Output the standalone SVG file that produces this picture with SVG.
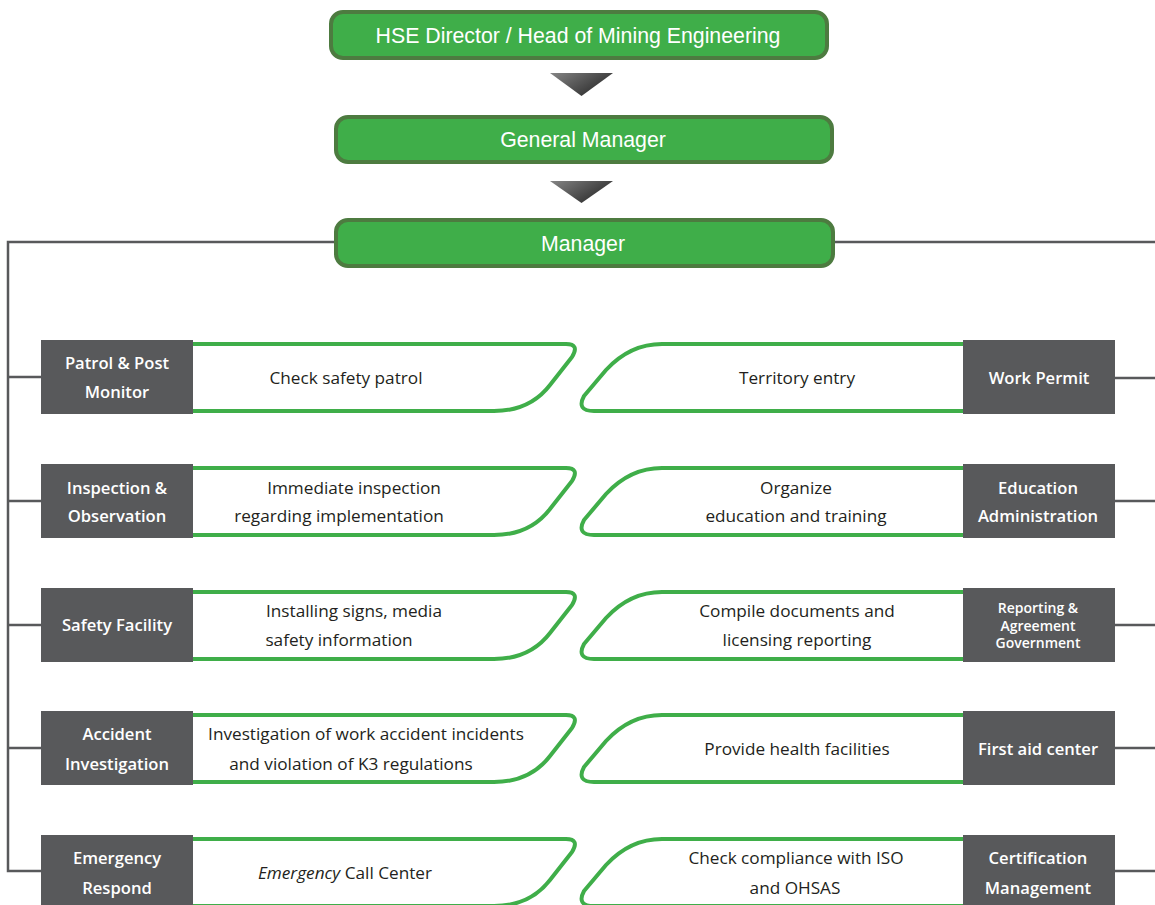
<svg xmlns="http://www.w3.org/2000/svg" width="1155" height="905" viewBox="0 0 1155 905">
  <style>
    .head { fill: #3fae49; stroke: #4d7b40; stroke-width: 4; }
    .head-text { font-family: "Liberation Sans", Arial, sans-serif; font-size: 21.3px; fill: #ffffff; text-anchor: middle; }
    .tag { fill: #58595b; }
    .tag-text { font-family: "Open Sans", "Liberation Sans", sans-serif; font-weight: 600; font-size: 16.6px; fill: #ffffff; text-anchor: middle; }
    .tag-small { font-size: 14px; }
    .card { fill: #ffffff; stroke: #3fae49; stroke-width: 4; stroke-linejoin: round; }
    .card-text { font-family: "Open Sans", "Liberation Sans", sans-serif; font-size: 17.2px; fill: #231f20; text-anchor: middle; }
    .wire { fill: none; stroke: #58595b; stroke-width: 2.5; }
  </style>
  <defs>
    <linearGradient id="arrowShade" x1="0" y1="0" x2="1" y2="0.6">
      <stop offset="0" stop-color="#858585"/>
      <stop offset="1" stop-color="#2b2b2b"/>
    </linearGradient>
    <path id="cardLeft" d="M188,344 H566 Q580,344 572,357 L550,385 Q530,411 494,411 H188"/>
    <path id="cardRight" d="M968,344 H662 Q630,344 606,370 L584,396 Q576,411 594,411 H968"/>
  </defs>

  <rect width="1155" height="905" fill="#ffffff"/>

  <!-- connectors -->
  <g id="connectors">
    <polyline class="wire" points="336,242 8,242 8,871 41,871"/>
    <line class="wire" x1="8" y1="377" x2="41" y2="377"/>
    <line class="wire" x1="8" y1="501" x2="41" y2="501"/>
    <line class="wire" x1="8" y1="625" x2="41" y2="625"/>
    <line class="wire" x1="8" y1="748" x2="41" y2="748"/>
    <line class="wire" x1="833" y1="242" x2="1155" y2="242"/>
    <line class="wire" x1="1115" y1="378" x2="1155" y2="378"/>
    <line class="wire" x1="1115" y1="501" x2="1155" y2="501"/>
    <line class="wire" x1="1115" y1="625" x2="1155" y2="625"/>
    <line class="wire" x1="1115" y1="748" x2="1155" y2="748"/>
    <line class="wire" x1="1115" y1="871" x2="1155" y2="871"/>
    <polygon points="550,73 613,73 581.5,96" fill="url(#arrowShade)"/>
    <polygon points="550,181 613,181 581.5,203" fill="url(#arrowShade)"/>
  </g>

  <!-- top chain -->
  <g id="hse-director">
    <rect class="head" x="331" y="12" width="496" height="46" rx="12"/>
    <text class="head-text" x="578" y="43">HSE Director / Head of Mining Engineering</text>
  </g>
  <g id="general-manager">
    <rect class="head" x="336" y="117" width="496" height="45" rx="12"/>
    <text class="head-text" x="583" y="147">General Manager</text>
  </g>
  <g id="manager">
    <rect class="head" x="336" y="220" width="497" height="46" rx="12"/>
    <text class="head-text" x="583" y="251">Manager</text>
  </g>

  <!-- left column -->
  <g id="patrol-post">
    <use href="#cardLeft" class="card"/>
    <rect class="tag" x="41" y="340" width="152" height="74"/>
    <text class="tag-text" x="117" y="369">Patrol &amp; Post</text>
    <text class="tag-text" x="117" y="398">Monitor</text>
    <text class="card-text" x="346" y="384">Check safety patrol</text>
  </g>
  <g id="inspection" transform="translate(0,124)">
    <use href="#cardLeft" class="card"/>
    <rect class="tag" x="41" y="340" width="152" height="74"/>
    <text class="tag-text" x="117" y="370">Inspection &amp;</text>
    <text class="tag-text" x="117" y="398">Observation</text>
    <text class="card-text" x="354" y="370">Immediate inspection</text>
    <text class="card-text" x="339" y="398">regarding implementation</text>
  </g>
  <g id="safety-facility" transform="translate(0,248)">
    <use href="#cardLeft" class="card"/>
    <rect class="tag" x="41" y="340" width="152" height="74"/>
    <text class="tag-text" x="117" y="383">Safety Facility</text>
    <text class="card-text" x="354" y="369">Installing signs, media</text>
    <text class="card-text" x="339" y="398">safety information</text>
  </g>
  <g id="accident" transform="translate(0,371)">
    <use href="#cardLeft" class="card"/>
    <rect class="tag" x="41" y="340" width="152" height="74"/>
    <text class="tag-text" x="117" y="369">Accident</text>
    <text class="tag-text" x="117" y="399">Investigation</text>
    <text class="card-text" x="366" y="369">Investigation of work accident incidents</text>
    <text class="card-text" x="351" y="399">and violation of K3 regulations</text>
  </g>
  <g id="emergency" transform="translate(0,495)">
    <use href="#cardLeft" class="card"/>
    <rect class="tag" x="41" y="340" width="152" height="74"/>
    <text class="tag-text" x="117" y="369">Emergency</text>
    <text class="tag-text" x="117" y="399">Respond</text>
    <text class="card-text" x="345" y="384"><tspan font-style="italic">Emergency</tspan> Call Center</text>
  </g>

  <!-- right column -->
  <g id="work-permit">
    <use href="#cardRight" class="card"/>
    <rect class="tag" x="963" y="340" width="152" height="74"/>
    <text class="tag-text" x="1039" y="384">Work Permit</text>
    <text class="card-text" x="797" y="384">Territory entry</text>
  </g>
  <g id="education" transform="translate(0,124)">
    <use href="#cardRight" class="card"/>
    <rect class="tag" x="963" y="340" width="152" height="74"/>
    <text class="tag-text" x="1038" y="370">Education</text>
    <text class="tag-text" x="1038" y="398">Administration</text>
    <text class="card-text" x="796" y="370">Organize</text>
    <text class="card-text" x="796" y="398">education and training</text>
  </g>
  <g id="reporting" transform="translate(0,248)">
    <use href="#cardRight" class="card"/>
    <rect class="tag" x="963" y="340" width="152" height="74"/>
    <text class="tag-text tag-small" x="1038" y="365">Reporting &amp;</text>
    <text class="tag-text tag-small" x="1038" y="383">Agreement</text>
    <text class="tag-text tag-small" x="1038" y="400">Government</text>
    <text class="card-text" x="797" y="369">Compile documents and</text>
    <text class="card-text" x="797" y="398">licensing reporting</text>
  </g>
  <g id="first-aid" transform="translate(0,371)">
    <use href="#cardRight" class="card"/>
    <rect class="tag" x="963" y="340" width="152" height="74"/>
    <text class="tag-text" x="1038" y="384">First aid center</text>
    <text class="card-text" x="797" y="384">Provide health facilities</text>
  </g>
  <g id="certification" transform="translate(0,495)">
    <use href="#cardRight" class="card"/>
    <rect class="tag" x="963" y="340" width="152" height="74"/>
    <text class="tag-text" x="1038" y="369">Certification</text>
    <text class="tag-text" x="1038" y="399">Management</text>
    <text class="card-text" x="796" y="369">Check compliance with ISO</text>
    <text class="card-text" x="795" y="399">and OHSAS</text>
  </g>
</svg>
